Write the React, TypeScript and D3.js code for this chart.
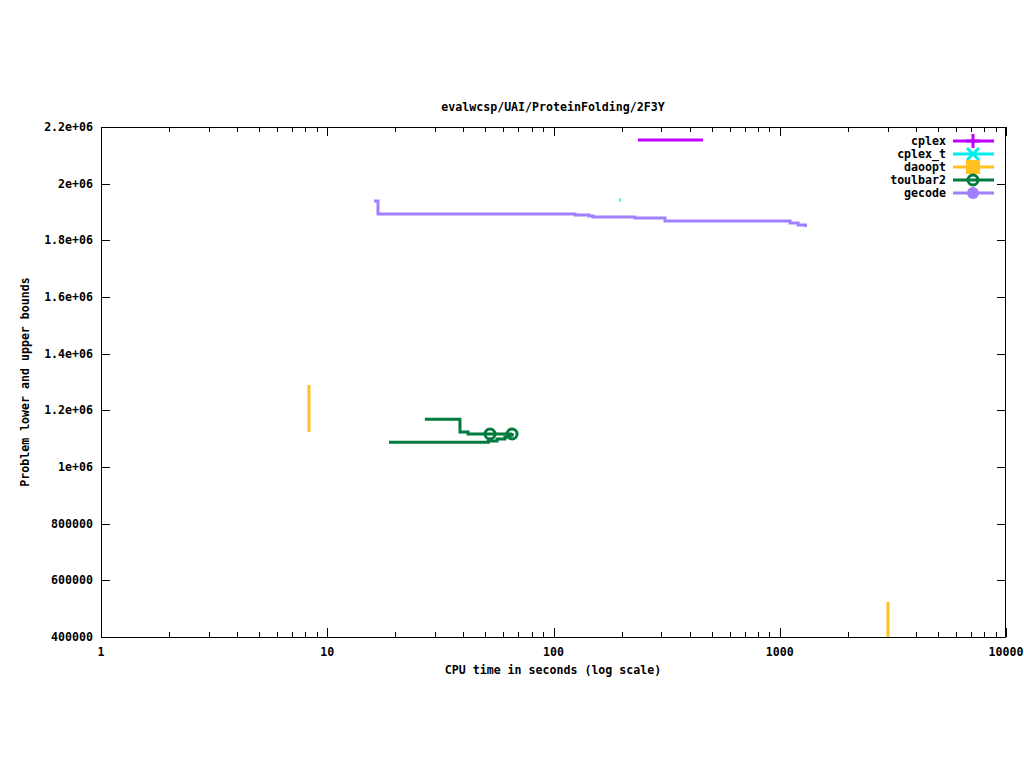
import React from "react";
import * as d3 from "d3";

type P = { t: number; v: number };

const title = "evalwcsp/UAI/ProteinFolding/2F3Y";
const xLabel = "CPU time in seconds (log scale)";
const yLabel = "Problem lower and upper bounds";

const yTickValues = [400000, 600000, 800000, 1000000, 1200000, 1400000, 1600000, 1800000, 2000000, 2200000];
const yTickLabels = ["400000", "600000", "800000", "1e+06", "1.2e+06", "1.4e+06", "1.6e+06", "1.8e+06", "2e+06", "2.2e+06"];
const xTickValues = [1, 10, 100, 1000, 10000];
const xTickLabels = ["1", "10", "100", "1000", "10000"];

const cplex: P[] = [
  { t: 236, v: 2154000 },
  { t: 458, v: 2154000 },
];
const cplexT: P[] = [
  { t: 195.5, v: 1942000 },
  { t: 198.5, v: 1942000 },
];
const daooptA: P[] = [
  { t: 8.3, v: 1289500 },
  { t: 8.3, v: 1123600 },
];
const daooptB: P[] = [
  { t: 3009, v: 523600 },
  { t: 3009, v: 380000 },
];
const toulbarUpper: P[] = [
  { t: 27.0, v: 1168400 },
  { t: 38.6, v: 1123600 },
  { t: 41.9, v: 1116500 },
  { t: 65.6, v: 1116500 },
];
const toulbarLower: P[] = [
  { t: 18.75, v: 1087600 },
  { t: 51.5, v: 1092000 },
  { t: 56.3, v: 1099000 },
  { t: 61.0, v: 1106000 },
  { t: 64.2, v: 1112000 },
  { t: 65.6, v: 1116500 },
];
const toulbarMarks: P[] = [
  { t: 52.4, v: 1116500 },
  { t: 65.6, v: 1116500 },
];
const gecode: P[] = [
  { t: 16.1, v: 1938800 },
  { t: 16.76, v: 1893000 },
  { t: 124.5, v: 1889400 },
  { t: 143.5, v: 1885900 },
  { t: 149.5, v: 1882400 },
  { t: 229, v: 1878800 },
  { t: 311, v: 1868200 },
  { t: 1110, v: 1861200 },
  { t: 1205, v: 1854100 },
  { t: 1300, v: 1847000 },
];

const legendNames = ["cplex", "cplex_t", "daoopt", "toulbar2", "gecode"];
const legendColors = ["#c000ff", "#00eeee", "#ffc020", "#007a3d", "#a080ff"];

const L = 101, R = 1006, T = 127, B = 637;
const FONT = "'DejaVu Sans Mono', monospace";

export default function App() {
  const x = d3.scaleLog().domain([1, 10000]).range([L, R]);
  const y = d3.scaleLinear().domain([400000, 2200000]).range([B, T]);
  const line = d3
    .line<P>()
    .x((d) => x(d.t))
    .y((d) => y(d.v))
    .curve(d3.curveStepAfter);

  const minor: number[] = [];
  for (let dec = 1; dec < 10000; dec *= 10) {
    for (let k = 2; k <= 9; k++) minor.push(dec * k);
  }

  const textStyle: React.CSSProperties = {
    fontFamily: FONT,
    fontSize: "11.6px",
    fontWeight: "bold",
  };

  const marker = (i: number, cx: number, cy: number) => {
    const c = legendColors[i];
    if (i === 0)
      return (
        <g stroke={c} strokeWidth={3}>
          <line x1={cx - 7} x2={cx + 7} y1={cy} y2={cy} />
          <line x1={cx} x2={cx} y1={cy - 7} y2={cy + 7} />
        </g>
      );
    if (i === 1)
      return (
        <g stroke={c} strokeWidth={3}>
          <line x1={cx - 6} x2={cx + 6} y1={cy - 6} y2={cy + 6} />
          <line x1={cx - 6} x2={cx + 6} y1={cy + 6} y2={cy - 6} />
        </g>
      );
    if (i === 2) return <rect x={cx - 7} y={cy - 7} width={14} height={14} fill={c} />;
    if (i === 3)
      return (
        <g>
          <circle cx={cx} cy={cy} r={5} fill="none" stroke={c} strokeWidth={3} />
          <rect x={cx - 1.5} y={cy - 1} width={3} height={2} fill={c} />
        </g>
      );
    return <circle cx={cx} cy={cy} r={6} fill={c} />;
  };

  const legendY = [141, 154, 167, 180, 193];

  return (
    <svg
      width={1024}
      height={768}
      style={{ position: "absolute", left: 0, top: 0, background: "#fff" }}
    >
      <defs>
        <clipPath id="plotclip">
          <rect x={L} y={T} width={R - L} height={B - T} />
        </clipPath>
      </defs>
      <rect x={0} y={0} width={1024} height={768} fill="#fff" />

      {/* ticks */}
      <g stroke="#000" strokeWidth={1}>
        {yTickValues.map((v) => (
          <g key={"yt" + v}>
            <line x1={L} x2={L + 9} y1={Math.round(y(v)) + 0.5} y2={Math.round(y(v)) + 0.5} />
            <line x1={R - 9} x2={R} y1={Math.round(y(v)) + 0.5} y2={Math.round(y(v)) + 0.5} />
          </g>
        ))}
        {xTickValues.map((v) => (
          <g key={"xt" + v}>
            <line x1={Math.round(x(v)) + 0.5} x2={Math.round(x(v)) + 0.5} y1={B} y2={B - 9} />
            <line x1={Math.round(x(v)) + 0.5} x2={Math.round(x(v)) + 0.5} y1={T} y2={T + 9} />
          </g>
        ))}
        {minor.map((v) => (
          <g key={"xm" + v}>
            <line x1={Math.round(x(v)) + 0.5} x2={Math.round(x(v)) + 0.5} y1={B} y2={B - 5} />
            <line x1={Math.round(x(v)) + 0.5} x2={Math.round(x(v)) + 0.5} y1={T} y2={T + 5} />
          </g>
        ))}
      </g>

      {/* data */}
      <g clipPath="url(#plotclip)" fill="none" strokeWidth={3}>
        <path d={line(cplex) || ""} stroke={legendColors[0]} />
        <path d={line(cplexT) || ""} stroke={legendColors[1]} />
        <path d={line(daooptA) || ""} stroke={legendColors[2]} />
        <path d={line(daooptB) || ""} stroke={legendColors[2]} />
        <path d={line(toulbarUpper) || ""} stroke={legendColors[3]} />
        <path d={line(toulbarLower) || ""} stroke={legendColors[3]} />
        <path d={line(gecode) || ""} stroke={legendColors[4]} />
        {toulbarMarks.map((p, i) => (
          <g key={"tm" + i}>{marker(3, x(p.t), y(p.v))}</g>
        ))}
      </g>

      {/* border */}
      <rect x={L + 0.5} y={T + 0.5} width={R - L - 1} height={B - T} fill="none" stroke="#000" strokeWidth={1} />

      {/* tick labels */}
      {yTickValues.map((v, i) => (
        <text key={"yl" + v} x={93} y={y(v)} dy="0.35em" textAnchor="end" style={textStyle}>
          {yTickLabels[i]}
        </text>
      ))}
      {xTickValues.map((v, i) => (
        <text key={"xl" + v} x={x(v)} y={652} dy="0.35em" textAnchor="middle" style={textStyle}>
          {xTickLabels[i]}
        </text>
      ))}

      {/* titles */}
      <text x={553} y={107} dy="0.35em" textAnchor="middle" style={textStyle}>
        {title}
      </text>
      <text x={553} y={670} dy="0.35em" textAnchor="middle" style={textStyle}>
        {xLabel}
      </text>
      <text
        transform={`translate(25,${(T + B) / 2}) rotate(-90)`}
        dy="0.35em"
        textAnchor="middle"
        style={textStyle}
      >
        {yLabel}
      </text>

      {/* legend */}
      {legendNames.map((n, i) => (
        <g key={"lg" + n}>
          <text x={946} y={legendY[i]} dy="0.35em" textAnchor="end" style={textStyle}>
            {n}
          </text>
          <line x1={953} x2={994} y1={legendY[i]} y2={legendY[i]} stroke={legendColors[i]} strokeWidth={3} />
          {marker(i, 973, legendY[i])}
        </g>
      ))}
    </svg>
  );
}
